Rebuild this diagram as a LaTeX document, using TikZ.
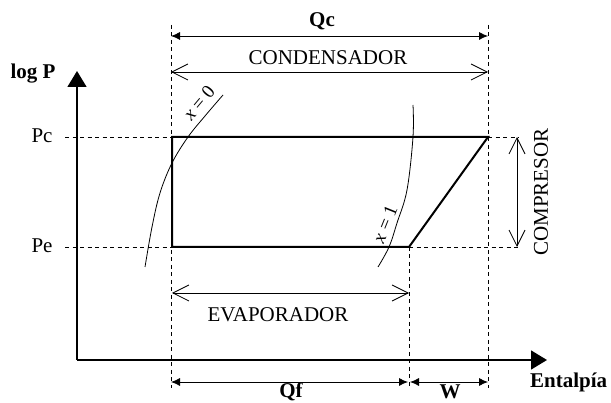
\documentclass[tikz,border=0pt]{standalone}
\usepackage{fontspec}
\setmainfont{Liberation Serif}
\usetikzlibrary{arrows.meta}
\begin{document}
\begin{tikzpicture}[x=1pt,y=-1pt,
  lbl/.style={font=\fontsize{21}{25}\selectfont, inner sep=0pt},
  slbl/.style={font=\fontsize{19}{23}\selectfont, inner sep=0pt},
  blbl/.style={font=\fontsize{21}{25}\selectfont\bfseries, inner sep=0pt},
  guide/.style={dash pattern=on 4pt off 3.5pt, line width=0.7pt},
  axis/.style={line width=1.5pt, -{Triangle[length=16pt,width=19pt]}},
  cyc/.style={line width=2pt, line join=miter},
  dimf/.style={line width=0.8pt, {Latex[length=9pt,width=8pt]}-{Latex[length=9pt,width=8pt]}},
  dimo/.style={line width=0.8pt, {Straight Barb[length=16pt,width=16pt]}-{Straight Barb[length=16pt,width=16pt]}},
  sat/.style={line width=0.8pt}]
\useasboundingbox (0,0) rectangle (611,403);
% key points
\coordinate (O) at (77,360);
\coordinate (Ytip) at (77,71);
\coordinate (Xtip) at (547,360);
\coordinate (A) at (172,137);
\coordinate (B) at (488,137);
\coordinate (C) at (409,247);
\coordinate (D) at (172,247);
% guides
\coordinate (L1) at (171,25);  \coordinate (L2) at (171,388);
\coordinate (R1) at (488,25);  \coordinate (R2) at (488,388);
\coordinate (M2) at (409,388);
\coordinate (PcL) at (65,137); \coordinate (PcR) at (519,137);
\coordinate (PeL) at (65,247); \coordinate (PeR) at (519,247);
\draw[guide] (L1) -- (L2);
\draw[guide] (R1) -- (R2);
\draw[guide] (C) -- (M2);
\draw[guide] (PcL) -- (L1 |- PcL);
\draw[guide] (B) -- (PcR);
\draw[guide] (PeL) -- (L1 |- PeL);
\draw[guide] (C) -- (PeR);
% axes
\draw[axis] (O) -- (Ytip);
\draw[axis] (O) -- (Xtip);
% saturation curves
\draw[sat] plot[smooth, tension=0.6] coordinates {(145,267) (152,227) (160,193) (172,163) (188,137) (205,116) (223,95)};
\draw[sat] plot[smooth, tension=0.6] coordinates {(413,105) (413,137) (407,190) (397,223) (389,247) (378,267)};
% cycle
\draw[cyc] (A) -- (B) -- (C) -- (D) -- cycle;
% dimension arrows
\coordinate (Qc1) at (171,36);  \coordinate (Qc2) at (488,36);
\coordinate (Cd1) at (171,72);  \coordinate (Cd2) at (488,72);
\coordinate (Ev1) at (172,293); \coordinate (Ev2) at (409,293);
\coordinate (Qf1) at (171,382); \coordinate (Qf2) at (408,382);
\coordinate (W1) at (410,382);  \coordinate (W2) at (488,382);
\coordinate (Cp1) at (517,137); \coordinate (Cp2) at (517,247);
\draw[dimf] (Qc1) -- (Qc2);
\draw[dimo] (Cd1) -- (Cd2);
\draw[dimo] (Ev1) -- (Ev2);
\draw[dimf] (Qf1) -- (Qf2);
\draw[dimf] (W1) -- (W2);
\draw[dimo] (Cp1) -- (Cp2);
% labels
\node[blbl] (tQc) at (322,21) {Qc};
\node[lbl] (tCond) at (328,58) {CONDENSADOR};
\node[lbl] (tEvap) at (278,315) {EVAPORADOR};
\node[blbl] (tQf) at (291,392) {Qf};
\node[blbl] (tW) at (450,392) {W};
\node[blbl, anchor=west] (tH) at (530,382) {Entalpía};
\node[lbl, rotate=90] (tComp) at (541,192) {COMPRESOR};
\node[blbl] (tlogP) at (33,74) {log P};
\node[lbl] (tPc) at (42,136) {Pc};
\node[lbl] (tPe) at (42,246) {Pe};
\node[slbl, rotate=50] (tx0) at (199,103) {\textit{x} = 0};
\node[slbl, rotate=68] (tx1) at (385,224) {\textit{x} = 1};
\end{tikzpicture}
\end{document}
